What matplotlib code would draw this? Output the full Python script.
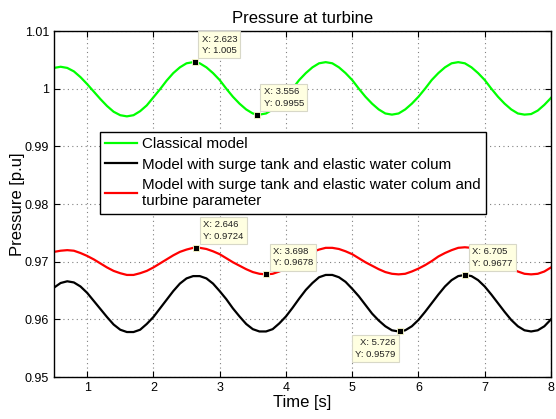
import matplotlib
matplotlib.use('Agg')
import matplotlib.pyplot as plt

plt.rcParams['font.family'] = ['Liberation Sans', 'DejaVu Sans']

# time samples [s]
t = [0.5, 0.6, 0.7, 0.8, 0.9, 1.0, 1.1, 1.2, 1.3, 1.4,
     1.5, 1.6, 1.7, 1.8, 1.9, 2.0, 2.1, 2.2, 2.3, 2.4,
     2.5, 2.6, 2.7, 2.8, 2.9, 3.0, 3.1, 3.2, 3.3, 3.4,
     3.5, 3.6, 3.7, 3.8, 3.9, 4.0, 4.1, 4.2, 4.3, 4.4,
     4.5, 4.6, 4.7, 4.8, 4.9, 5.0, 5.1, 5.2, 5.3, 5.4,
     5.5, 5.6, 5.7, 5.8, 5.9, 6.0, 6.1, 6.2, 6.3, 6.4,
     6.5, 6.6, 6.7, 6.8, 6.9, 7.0, 7.1, 7.2, 7.3, 7.4,
     7.5, 7.6, 7.7, 7.8, 7.9, 8.0]

# classical model
p_classical = [1.0036, 1.0038, 1.0036, 1.0030, 1.0020, 1.0008, 0.9995, 0.9982, 0.9970, 0.9960,
               0.9954, 0.9952, 0.9954, 0.9961, 0.9971, 0.9985, 0.9999, 1.0014, 1.0027, 1.0037,
               1.0044, 1.0046, 1.0044, 1.0037, 1.0027, 1.0015, 1.0000, 0.9986, 0.9974, 0.9964,
               0.9957, 0.9955, 0.9957, 0.9964, 0.9974, 0.9986, 1.0000, 1.0015, 1.0027, 1.0037,
               1.0044, 1.0046, 1.0044, 1.0037, 1.0027, 1.0015, 1.0000, 0.9986, 0.9974, 0.9964,
               0.9957, 0.9955, 0.9957, 0.9964, 0.9974, 0.9986, 1.0000, 1.0015, 1.0027, 1.0037,
               1.0044, 1.0046, 1.0044, 1.0037, 1.0027, 1.0015, 1.0000, 0.9986, 0.9974, 0.9964,
               0.9957, 0.9955, 0.9956, 0.9962, 0.9972, 0.9984]

# surge tank + elastic water column
p_surge = [0.9655, 0.9663, 0.9666, 0.9664, 0.9657, 0.9646, 0.9632, 0.9618, 0.9604, 0.9591,
           0.9582, 0.9578, 0.9578, 0.9582, 0.9592, 0.9604, 0.9619, 0.9634, 0.9649, 0.9662,
           0.9671, 0.9675, 0.9675, 0.9671, 0.9662, 0.9649, 0.9635, 0.9619, 0.9605, 0.9592,
           0.9583, 0.9579, 0.9579, 0.9583, 0.9593, 0.9605, 0.9620, 0.9636, 0.9651, 0.9663,
           0.9673, 0.9677, 0.9677, 0.9673, 0.9665, 0.9653, 0.9640, 0.9625, 0.9610, 0.9598,
           0.9588, 0.9581, 0.9579, 0.9581, 0.9588, 0.9599, 0.9613, 0.9628, 0.9643, 0.9657,
           0.9668, 0.9675, 0.9677, 0.9675, 0.9668, 0.9657, 0.9643, 0.9628, 0.9613, 0.9599,
           0.9588, 0.9581, 0.9579, 0.9581, 0.9588, 0.9600]

# surge tank + elastic water column + turbine parameter
p_turbine = [0.9717, 0.9719, 0.9720, 0.9719, 0.9715, 0.9710, 0.9704, 0.9697, 0.9690, 0.9684,
             0.9680, 0.9677, 0.9677, 0.9680, 0.9684, 0.9690, 0.9697, 0.9704, 0.9711, 0.9717,
             0.9721, 0.9724, 0.9724, 0.9722, 0.9718, 0.9713, 0.9706, 0.9699, 0.9693, 0.9687,
             0.9682, 0.9679, 0.9678, 0.9679, 0.9683, 0.9688, 0.9695, 0.9703, 0.9710, 0.9717,
             0.9721, 0.9724, 0.9724, 0.9722, 0.9718, 0.9713, 0.9706, 0.9699, 0.9693, 0.9687,
             0.9682, 0.9679, 0.9678, 0.9679, 0.9683, 0.9688, 0.9694, 0.9701, 0.9709, 0.9715,
             0.9720, 0.9724, 0.9725, 0.9724, 0.9720, 0.9715, 0.9709, 0.9702, 0.9694, 0.9688,
             0.9683, 0.9679, 0.9678, 0.9679, 0.9683, 0.9690]

labels = ['Classical model',
          'Model with surge tank and elastic water colum',
          'Model with surge tank and elastic water colum and\nturbine parameter']

# data tips
tip_x = [2.623, 3.556, 2.646, 3.698, 5.726, 6.705]
tip_y = [1.0046, 0.9955, 0.9724, 0.9678, 0.9579, 0.9677]
tip_ytxt = ['1.005', '0.9955', '0.9724', '0.9678', '0.9579', '0.9677']
tip_below = [False, False, False, False, True, False]

xticks = [1, 2, 3, 4, 5, 6, 7, 8]
yticks = [0.95, 0.96, 0.97, 0.98, 0.99, 1.0, 1.01]
ytick_labels = ['0.95', '0.96', '0.97', '0.98', '0.99', '1', '1.01']

fig = plt.figure(figsize=(5.56, 4.19), dpi=100)
ax = fig.add_axes([0.0971, 0.1002, 0.8939, 0.8258])

ax.plot(t, p_classical, color='#00ff00', lw=1.6, label=labels[0])
ax.plot(t, p_surge, color='black', lw=1.6, label=labels[1])
ax.plot(t, p_turbine, color='#ff0000', lw=1.6, label=labels[2])

for x, y, ytxt, below in zip(tip_x, tip_y, tip_ytxt, tip_below):
    txt = 'X: %s\nY: %s' % (('%.3f' % x), ytxt)
    if below:
        off, ha, va = (-5, -7), 'right', 'top'
    else:
        off, ha, va = (7, 7), 'left', 'bottom'
    ax.annotate(txt, xy=(x, y), xytext=off, textcoords='offset pixels',
                ha=ha, va=va, fontsize=6.8, linespacing=1.35, color='#202020', zorder=5,
                bbox=dict(boxstyle='square,pad=0.35', fc='#ffffe1', ec='#d8d8c8', lw=0.8))
    ax.plot([x], [y], 's', ms=5, mfc='black', mec='#ffffcc', mew=0.6, zorder=6)

ax.set_xlim(0.5, 8)
ax.set_ylim(0.95, 1.01)
ax.set_xticks(xticks)
ax.set_yticks(yticks)
ax.set_yticklabels(ytick_labels)
ax.tick_params(direction='in', top=True, right=True, labelsize=9, length=4, width=0.8)
ax.grid(True, color='#808080', linestyle=(0, (1, 3)), lw=0.8)
for s in ax.spines.values():
    s.set_linewidth(1.0)

ax.set_title('Pressure at turbine', fontsize=12, pad=6)
ax.set_xlabel('Time [s]', fontsize=12, labelpad=1)
ax.set_ylabel('Pressure [p.u]', fontsize=12, labelpad=0)

leg = ax.legend(loc='upper left', bbox_to_anchor=(0.0926, 0.708), borderaxespad=0,
                fontsize=10.9, fancybox=False, framealpha=1, edgecolor='black',
                handlelength=2.1, handletextpad=0.3, labelspacing=0.42, borderpad=0.35)
leg.get_frame().set_linewidth(1.0)

fig.savefig('out.png', dpi=100)
